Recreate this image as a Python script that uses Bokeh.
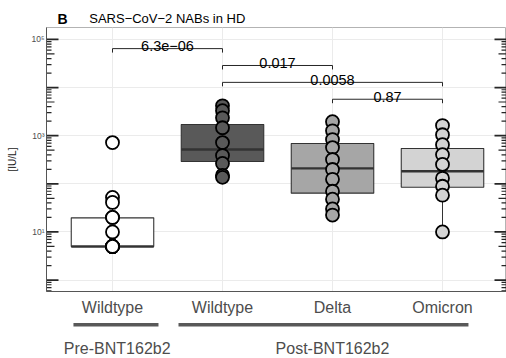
import numpy as np
from bokeh.plotting import figure
from bokeh.layouts import column
from bokeh.models import FixedTicker, ColumnDataSource, Range1d
from bokeh.core.properties import value
from bokeh.embed import file_html
from bokeh.resources import INLINE

# ---------------- data ----------------
categories = ["Wildtype", "Wildtype", "Delta", "Omicron"]
group_names = ["Pre-BNT162b2", "Post-BNT162b2"]
fills = ["#ffffff", "#595959", "#a6a6a6", "#d3d3d3"]

pre_wildtype = [718, 52, 41, 20, 20, 10, 5, 5, 5, 5, 5, 5, 5]
post_wildtype = [4170, 3300, 2350, 1460, 718, 387, 265, 150, 136]
post_delta = [1950, 1260, 830, 565, 320, 198, 124, 70, 48, 30, 22.4]
post_omicron = [1620, 1045, 650, 404, 253, 130, 89, 58, 10]

box_q1 = [5, 290, 64, 85]
box_median = [5, 515, 209, 182]
box_q3 = [19.6, 1700, 685, 540]
whisker_low = [5, 136, 22.4, 10]
whisker_high = [52, 4170, 1950, 1620]

bracket_from = [1, 2, 2, 3]
bracket_to = [2, 3, 4, 4]
bracket_label = ["6.3e\u221206", "0.017", "0.0058", "0.87"]
bracket_y = [6.43e4, 2.87e4, 1.28e4, 5.71e3]

y_tick_values = [10, 1000, 100000]
y_tick_labels = ["10\u00b9", "10\u00b3", "10\u2075"]
decades = [1, 10, 100, 1000, 10000, 100000]

group_bar_from = [0.645, 1.6]
group_bar_to = [1.418, 4.236]
group_label_x = [1.043, 3.0]

title_text = "SARS\u2212CoV\u22122 NABs in HD"
tag_text = "B"

# ---------------- layout constants ----------------
FONT = "Liberation Sans"
W = 506
HEAD_H = 27
MAIN_H = 291
FOOT_H = 358 - HEAD_H - MAIN_H
ML = 46
FW = W - ML
FH = 266
PX_PER_X = 110.0
x0 = 0.4
x1 = x0 + FW / PX_PER_X
y_lo, y_hi = 0.579, 176600.0
PX_PER_DEC = FH / (np.log10(y_hi) - np.log10(y_lo))


def bare(fig):
    fig.outline_line_color = None
    fig.grid.visible = False
    fig.min_border_left = 0
    fig.min_border_right = 0
    fig.min_border_top = 0
    fig.min_border_bottom = 0
    return fig


# ---------------- header ----------------
head = figure(width=W, height=HEAD_H, x_range=Range1d(0, W), y_range=Range1d(HEAD_H, 0),
              x_axis_location=None, y_axis_location=None, output_backend="svg",
              toolbar_location=None)
bare(head)
head.text(x=[12], y=[18], text=[tag_text], text_font=value(FONT), text_font_size="14px",
          text_font_style="bold", text_color="black", text_baseline="alphabetic")
head.text(x=[47], y=[18], text=[title_text], text_font=value(FONT), text_font_size="13px",
          text_color="black", text_baseline="alphabetic")

# ---------------- main panel ----------------
p = figure(width=W, height=MAIN_H, x_range=Range1d(x0, x1), y_range=Range1d(y_lo, y_hi),
           y_axis_type="log", output_backend="svg", toolbar_location=None,
           min_border_left=ML, min_border_right=0, min_border_top=0,
           min_border_bottom=MAIN_H - FH)
p.outline_line_color = "#b3b3b3"
p.outline_line_width = 1

p.xgrid.ticker = FixedTicker(ticks=[1, 2, 3, 4])
p.ygrid.ticker = FixedTicker(ticks=decades)
p.grid.grid_line_color = "#ebebeb"
p.grid.grid_line_width = 1

xa = p.xaxis[0]
xa.ticker = FixedTicker(ticks=[1, 2, 3, 4])
xa.major_label_overrides = {i + 1: c for i, c in enumerate(categories)}
xa.major_label_text_font = FONT
xa.major_label_text_font_size = "16px"
xa.major_label_text_color = "#4d4d4d"
xa.major_tick_out = 0
xa.major_tick_in = 0
xa.minor_tick_out = 0
xa.minor_tick_in = 0
xa.major_label_standoff = 7
xa.axis_line_color = "#555555"
xa.axis_line_width = 1

ya = p.yaxis[0]
ya.ticker = FixedTicker(ticks=y_tick_values, minor_ticks=[])
ya.major_label_overrides = {v: t for v, t in zip(y_tick_values, y_tick_labels)}
ya.major_label_text_font = FONT
ya.major_label_text_font_size = "8.5px"
ya.major_label_text_color = "#4d4d4d"
ya.major_tick_out = 0
ya.major_tick_in = 0
ya.minor_tick_out = 0
ya.minor_tick_in = 0
ya.major_label_standoff = 2
ya.axis_line_color = "#555555"
ya.axis_line_width = 1
ya.axis_label = "[IU/L]"
ya.axis_label_text_font = FONT
ya.axis_label_text_font_size = "10px"
ya.axis_label_text_font_style = "normal"
ya.axis_label_text_color = "#1a1a1a"
ya.axis_label_standoff = 11

# log ticks (inside the panel, both sides)
tk_y, tk_len, tk_w = [], [], []
for d in range(-1, 6):
    for k in range(1, 10):
        v = k * 10.0 ** d
        if y_lo <= v <= y_hi:
            tk_y.append(v)
            tk_len.append(12 if k == 1 else (8 if k == 5 else 5))
            tk_w.append(1.8 if k == 1 else 1.2)
tk_y = np.array(tk_y)
tk_len = np.array(tk_len) / PX_PER_X
for side in ("l", "r"):
    if side == "l":
        xs0 = np.full(len(tk_y), x0)
        xs1 = x0 + tk_len
    else:
        xs0 = x1 - tk_len
        xs1 = np.full(len(tk_y), x1)
    src = ColumnDataSource(dict(x0=xs0, x1=xs1, y=tk_y, w=tk_w))
    p.segment(x0="x0", y0="y", x1="x1", y1="y", line_width="w",
              line_color="#262626", source=src)

# significance brackets
drop = 10 ** (4.0 / PX_PER_DEC)
txt_off = 10 ** (2.6 / PX_PER_DEC)
for a, b, lab, yy in zip(bracket_from, bracket_to, bracket_label, bracket_y):
    p.line([a, a, b, b], [yy / drop, yy, yy, yy / drop], line_color="#262626",
           line_width=1)
    p.text(x=[(a + b) / 2], y=[yy * txt_off], text=[lab], text_align="center",
           text_baseline="alphabetic", text_font=value(FONT),
           text_font_size="14.5px", text_color="black")

# boxplots
xs = np.arange(1, 5)
half = 0.375
p.segment(x0=xs, y0=box_q3, x1=xs, y1=whisker_high, line_color="#333333", line_width=1)
p.segment(x0=xs, y0=box_q1, x1=xs, y1=whisker_low, line_color="#333333", line_width=1)
p.quad(left=xs - half, right=xs + half, bottom=box_q1, top=box_q3,
       fill_color=fills, line_color="#333333", line_width=1.1)
p.segment(x0=xs - half, y0=box_median, x1=xs + half, y1=box_median,
          line_color="#333333", line_width=2.4)

# points
series = [pre_wildtype, post_wildtype, post_delta, post_omicron]
for i, vals in enumerate(series):
    p.scatter(x=[i + 1] * len(vals), y=vals, size=13, fill_color=fills[i],
              line_color="black", line_width=1.8)

# ---------------- footer: group bars and labels ----------------
foot = figure(width=W, height=FOOT_H, x_range=p.x_range, y_range=Range1d(FOOT_H, 0),
              x_axis_location=None, y_axis_location=None, output_backend="svg",
              toolbar_location=None)
bare(foot)
foot.min_border_left = ML
foot.quad(left=group_bar_from, right=group_bar_to, top=[4.5] * 2, bottom=[8] * 2,
          fill_color="#595959", line_color=None)
foot.text(x=group_label_x, y=[29.7] * 2, text=group_names, text_font=value(FONT),
          text_font_size="16px", text_color="#4d4d4d", text_align="center",
          text_baseline="alphabetic")

layout = column(head, p, foot, spacing=0)
open("out.html", "w").write(file_html(layout, INLINE))
